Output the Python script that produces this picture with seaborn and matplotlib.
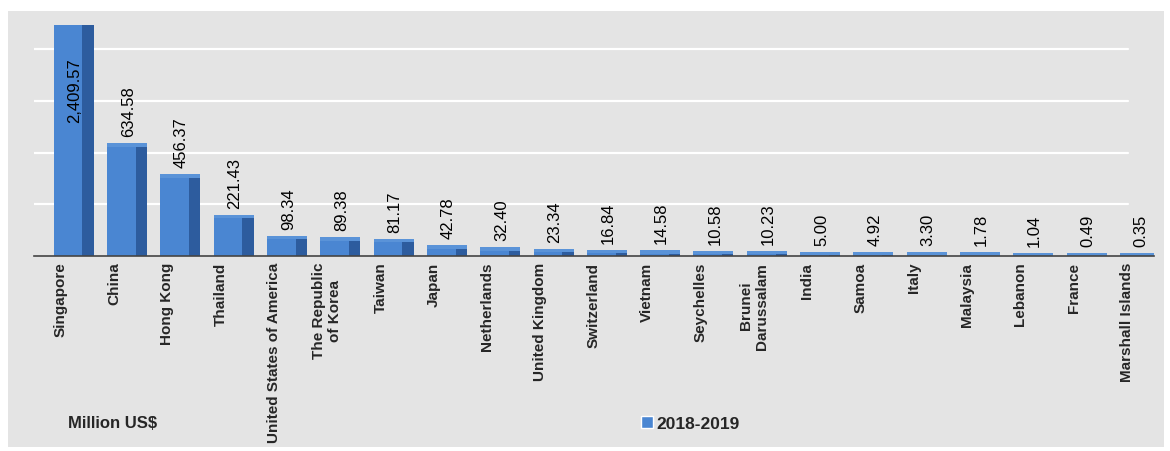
import matplotlib
matplotlib.use("Agg")
import matplotlib.pyplot as plt
import seaborn as sns
import numpy as np
import pandas as pd
from matplotlib.patches import Rectangle, Patch

countries = ["Singapore", "China", "Hong Kong", "Thailand", "United States of America",
             "The Republic\nof Korea", "Taiwan", "Japan", "Netherlands", "United Kingdom",
             "Switzerland", "Vietnam", "Seychelles", "Brunei\nDarussalam", "India", "Samoa",
             "Italy", "Malaysia", "Lebanon", "France", "Marshall Islands"]
values = [2409.57, 634.58, 456.37, 221.43, 98.34, 89.38, 81.17, 42.78, 32.40, 23.34,
          16.84, 14.58, 10.58, 10.23, 5.00, 4.92, 3.30, 1.78, 1.04, 0.49, 0.35]
grid_values = [300, 600, 900, 1200]
series_name = "2018-2019"
unit_label = "Million US$"

df = pd.DataFrame({"country": countries, "value": values})

sns.set_style("white")
plt.rcParams["font.family"] = ["Liberation Sans", "DejaVu Sans"]

front = "#4a86d2"
side = "#2d5c9e"
cap = "#5a93d8"

fig = plt.figure(figsize=(11.7, 4.52), dpi=100)
fig.patch.set_facecolor("white")
fig.patches.append(Rectangle((0.007, 0.009), 0.988, 0.965, transform=fig.transFigure,
                             facecolor="#e4e4e4", edgecolor="none", zorder=-10))

ax = fig.add_axes([0.029, 0.431, 0.957, 0.511])
ax.set_facecolor("none")

ymax = 1340
depth = 20  # apparent thickness of the 3D top face, in data units

sns.barplot(data=df, x="country", y="value", color=front, width=0.54,
            saturation=1, ax=ax, zorder=3)
for p in ax.patches:
    p.set_x(p.get_x() + 0.14)
    p.set_edgecolor("none")
# darker right-hand face and a top face to mimic the 3D look
for i, v in enumerate(values):
    ax.bar(i + 0.515, v, width=0.21, color=side, zorder=2, linewidth=0)
    ax.bar(i + 0.245, depth, bottom=v, width=0.75, color=cap, zorder=2.5, linewidth=0)

ax.set_ylim(0, ymax)
ax.set_xlim(-0.5, len(countries) - 0.5)

for g in grid_values:
    ax.axhline(g, xmin=0, xmax=0.977, color="white", lw=1.6, zorder=1)

for i, v in enumerate(values):
    if v > ymax:
        ax.annotate(f"{v:,.2f}", (i + 0.27, ymax), xytext=(0, -23), textcoords="offset points",
                    rotation=90, ha="center", va="top", fontsize=12, color="black", zorder=5)
    else:
        ax.annotate(f"{v:,.2f}", (i + 0.27, v + depth), xytext=(0, 5), textcoords="offset points",
                    rotation=90, ha="center", va="bottom", fontsize=12, color="black", zorder=5)

ax.set_xlabel("")
ax.set_ylabel("")
ax.set_yticks([])
for s in ["top", "right", "left"]:
    ax.spines[s].set_visible(False)
ax.spines["bottom"].set_color("#444444")
ax.spines["bottom"].set_linewidth(1.2)
ax.spines["bottom"].set_zorder(4)

ax.set_xticks(np.arange(len(countries)))
ax.set_xticklabels(countries, rotation=90, fontsize=11, fontweight="bold",
                   ha="center", va="top", multialignment="center")
ax.tick_params(axis="x", which="major", length=0, pad=4)
ax.set_xticks(np.arange(len(countries) + 1) - 0.5, minor=True)
ax.tick_params(axis="x", which="minor", length=4, width=1.2, color="#444444", direction="out")

fig.text(0.058, 0.062, unit_label, fontsize=12, fontweight="bold", ha="left", va="center")
fig.legend(handles=[Patch(facecolor=front, label=series_name)], loc="center",
           bbox_to_anchor=(0.59, 0.06), frameon=False, handlelength=0.7, handleheight=0.7,
           handletextpad=0.2, prop={"weight": "bold", "size": 12.5})

fig.savefig("out.png", dpi=100)
